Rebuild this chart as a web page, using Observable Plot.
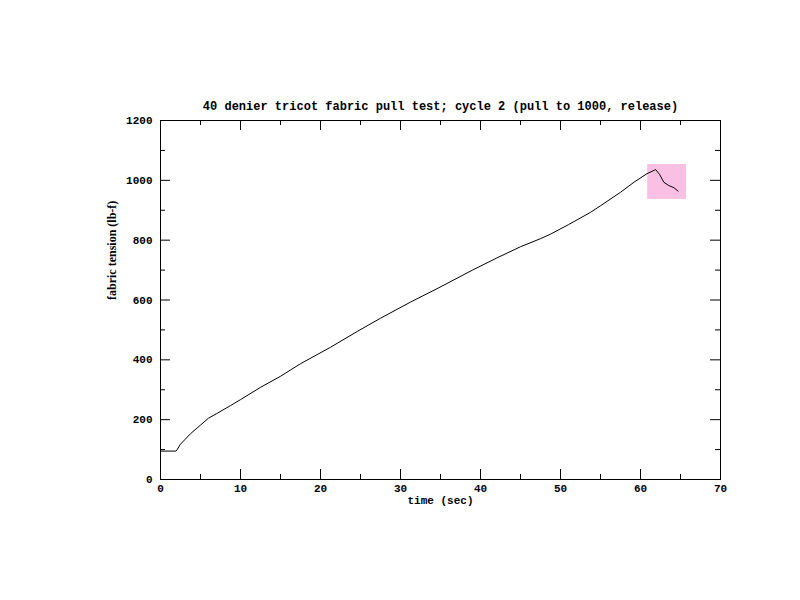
<!DOCTYPE html>
<html>
<head>
<meta charset="utf-8">
<script src="https://cdn.jsdelivr.net/npm/d3@7"></script>
<script src="https://cdn.jsdelivr.net/npm/@observablehq/plot@0.6"></script>
<style>
  html, body { margin: 0; padding: 0; background: #fff; }
</style>
</head>
<body>
<div id="chart"></div>
<script>
// ---- data ----
const timeSec = [0, 1.96, 2.5, 3.75, 5, 6, 7, 8.75, 10, 12.5, 15, 17.5, 21.25, 24.6, 27.5, 31.25, 34.8, 39, 42, 45, 47.5, 48.75, 51, 53.75, 55, 57.5, 59.2, 60.8, 61.9, 62.4, 62.9, 63.5, 64.2, 64.7];
const tension = [95, 95, 118, 153, 182, 205, 220, 247, 267, 308, 345, 387, 442, 495, 539, 593, 641, 700, 740, 778, 805, 820, 852, 893, 915, 960, 994, 1022, 1036, 1019, 994, 983, 975, 964];
const highlight = [{x1: 60.9, x2: 65.75, y1: 936, y2: 1053}];
const xMajor = [0, 10, 20, 30, 40, 50, 60, 70];
const xMinor = [5, 15, 25, 35, 45, 55, 65];
const yMajor = [0, 200, 400, 600, 800, 1000, 1200];
const yMinor = [100, 300, 500, 700, 900, 1100];
const titleText = "40 denier tricot fabric pull test; cycle 2 (pull to 1000, release)";
const xLabel = "time (sec)";
const yLabel = "fabric tension (lb-f)";

const series = timeSec.map((t, i) => ({t, v: tension[i]}));

const W = 800, H = 600, mL = 160, mR = 80, mT = 120, mB = 121;
const fw = W - mL - mR, fh = H - mT - mB;
const majorLen = 10, minorLen = 5;

const chart = Plot.plot({
  width: W, height: H,
  marginLeft: mL, marginRight: mR, marginTop: mT, marginBottom: mB,
  style: {fontFamily: "Liberation Mono", fontSize: "11px", fontWeight: "bold", color: "#000", background: "#fff"},
  x: {domain: [0, 70], axis: null},
  y: {domain: [0, 1200], axis: null},
  marks: [
    Plot.rect(highlight, {x1: "x1", x2: "x2", y1: "y1", y2: "y2", fill: "#f9c0e3"}),
    // ticks inward on all four sides
    Plot.tickX(xMajor, {x: d => d, insetTop: fh - majorLen, stroke: "#000"}),
    Plot.tickX(xMajor, {x: d => d, insetBottom: fh - majorLen, stroke: "#000"}),
    Plot.tickX(xMinor, {x: d => d, insetTop: fh - minorLen, stroke: "#000"}),
    Plot.tickX(xMinor, {x: d => d, insetBottom: fh - minorLen, stroke: "#000"}),
    Plot.tickY(yMajor, {y: d => d, insetRight: fw - majorLen, stroke: "#000"}),
    Plot.tickY(yMajor, {y: d => d, insetLeft: fw - majorLen, stroke: "#000"}),
    Plot.tickY(yMinor, {y: d => d, insetRight: fw - minorLen, stroke: "#000"}),
    Plot.tickY(yMinor, {y: d => d, insetLeft: fw - minorLen, stroke: "#000"}),
    Plot.axisX({anchor: "bottom", ticks: xMajor, tickSize: 0, tickPadding: 5, label: null, tickFormat: d => String(d)}),
    Plot.axisY({anchor: "left", ticks: yMajor, tickSize: 0, tickPadding: 8, label: null, tickFormat: d => String(d)}),
    Plot.frame({stroke: "#000"}),
    Plot.line(series, {x: "t", y: "v", stroke: "#000", strokeWidth: 1}),
    Plot.text([titleText], {frameAnchor: "top", dy: -19, text: d => d, fontSize: 12}),
    Plot.text([xLabel], {frameAnchor: "bottom", dy: 24, text: d => d, fontSize: 11}),
    Plot.text([yLabel], {frameAnchor: "left", dx: -48, rotate: -90, text: d => d, fontFamily: "Liberation Serif", fontSize: 12, fontWeight: "bold"})
  ]
});
document.getElementById("chart").appendChild(chart);
</script>
</body>
</html>
